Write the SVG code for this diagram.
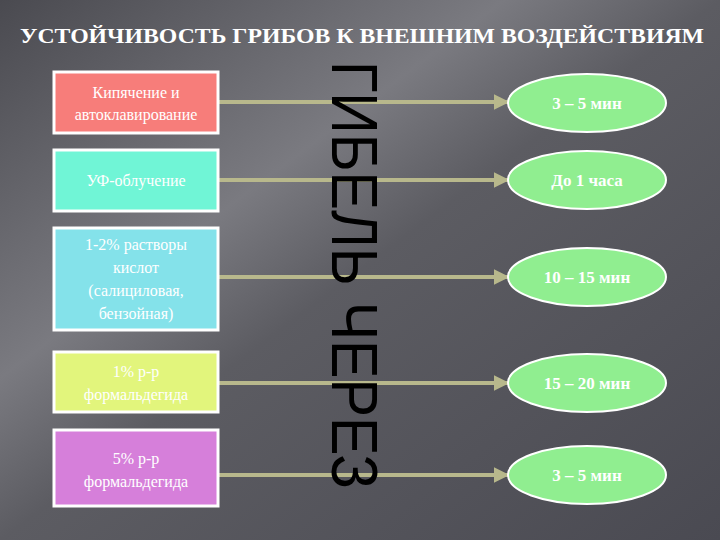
<svg xmlns="http://www.w3.org/2000/svg" width="720" height="540" viewBox="0 0 720 540">
<defs>
<linearGradient id="bg" x1="0" y1="0" x2="1" y2="1">
<stop offset="0" stop-color="#4a4a50"/>
<stop offset="0.35" stop-color="#7a7a80"/>
<stop offset="0.5" stop-color="#5c5c62"/>
<stop offset="1" stop-color="#4a4a52"/>
</linearGradient>
<marker id="ah" viewBox="0 0 10 10" refX="9" refY="5" markerWidth="4" markerHeight="4" orient="auto"><path d="M0,0L10,5L0,10z" fill="#b8b88c"/></marker>
<style>
.box{stroke:#fff;stroke-width:3}
.t{font-family:"Liberation Serif",serif;font-size:16px;fill:#fff;text-anchor:middle}
.ov{fill:#90ee90;stroke:#fff;stroke-width:2}
.ot{font-family:"Liberation Serif",serif;font-size:17px;font-weight:bold;fill:#fff;text-anchor:middle}
.c{stroke:#b8b88c;stroke-width:4;fill:none;marker-end:url(#ah)}
</style>
</defs>
<rect width="720" height="540" fill="url(#bg)"/>
<text x="362" y="43" font-family="Liberation Serif,serif" font-size="20" font-weight="bold" fill="#fff" text-anchor="middle" textLength="684" lengthAdjust="spacingAndGlyphs">УСТОЙЧИВОСТЬ ГРИБОВ К ВНЕШНИМ ВОЗДЕЙСТВИЯМ</text>
<g id="connectors">
<line class="c" x1="218" y1="102" x2="508" y2="102"/>
<line class="c" x1="218" y1="180" x2="508" y2="180"/>
<line class="c" x1="218" y1="277" x2="508" y2="277"/>
<line class="c" x1="218" y1="383" x2="508" y2="383"/>
<line class="c" x1="218" y1="475" x2="508" y2="475"/>
</g>
<g id="death"><text transform="translate(332,275) rotate(90)" font-family="Liberation Sans,sans-serif" font-size="64" fill="#000" text-anchor="middle" textLength="428" lengthAdjust="spacingAndGlyphs">ГИБЕЛЬ ЧЕРЕЗ</text></g>
<g id="b1"><rect class="box" x="54" y="72" width="164" height="61" fill="#f77d7a"/><text class="t" x="136" y="98">Кипячение и</text><text class="t" x="136" y="120">автоклавирование</text></g>
<g id="b2"><rect class="box" x="54" y="150" width="164" height="61" fill="#70f5d6"/><text class="t" x="136" y="186">УФ-облучение</text></g>
<g id="b3"><rect class="box" x="54" y="228" width="164" height="102" fill="#84e2ea"/><text class="t" x="136" y="250">1-2% растворы</text><text class="t" x="136" y="273">кислот</text><text class="t" x="136" y="296">(салициловая,</text><text class="t" x="136" y="319">бензойная)</text></g>
<g id="b4"><rect class="box" x="54" y="352" width="164" height="60" fill="#e2f57c"/><text class="t" x="136" y="377">1% р-р</text><text class="t" x="136" y="400">формальдегида</text></g>
<g id="b5"><rect class="box" x="54" y="430" width="164" height="76" fill="#d67fda"/><text class="t" x="136" y="464">5% р-р</text><text class="t" x="136" y="487">формальдегида</text></g>
<g id="o1"><ellipse class="ov" cx="587" cy="103" rx="79" ry="29"/><text class="ot" x="587" y="109">3 – 5 мин</text></g>
<g id="o2"><ellipse class="ov" cx="587" cy="180" rx="79" ry="29"/><text class="ot" x="587" y="186">До 1 часа</text></g>
<g id="o3"><ellipse class="ov" cx="587" cy="277" rx="79" ry="29"/><text class="ot" x="587" y="283">10 – 15 мин</text></g>
<g id="o4"><ellipse class="ov" cx="587" cy="383" rx="79" ry="29"/><text class="ot" x="587" y="389">15 – 20 мин</text></g>
<g id="o5"><ellipse class="ov" cx="587" cy="475" rx="79" ry="29"/><text class="ot" x="587" y="481">3 – 5 мин</text></g>
</svg>
